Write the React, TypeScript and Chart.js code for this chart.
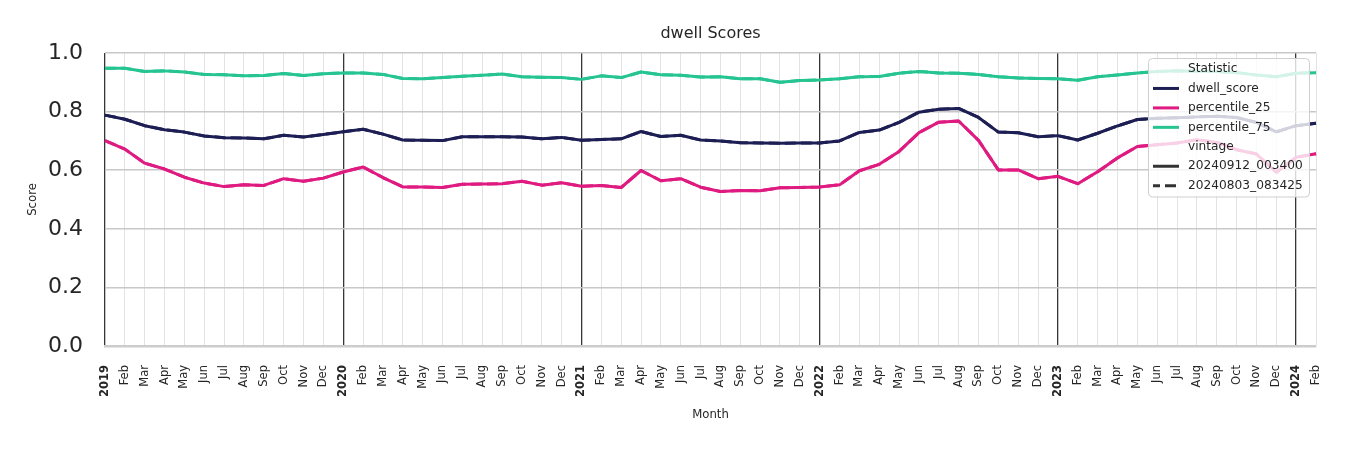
import React, { useEffect, useRef } from 'react';
import { Chart, registerables } from 'chart.js';

Chart.register(...registerables);

// ---- Data ----
const YEARS = ['2019', '2020', '2021', '2022', '2023', '2024'];
const MONTH_ABBR = ['Jan', 'Feb', 'Mar', 'Apr', 'May', 'Jun', 'Jul', 'Aug', 'Sep', 'Oct', 'Nov', 'Dec'];
const MONTH_COUNT = 62; // Jan 2019 .. Feb 2024
const MONTH_LABELS: string[] = [];
for (let i = 0; i < MONTH_COUNT; i++) {
  MONTH_LABELS.push(i % 12 === 0 ? YEARS[i / 12] : MONTH_ABBR[i % 12]);
}

const DWELL_SCORE = [
  0.788, 0.774, 0.752, 0.738, 0.730, 0.717, 0.711, 0.710, 0.707, 0.719, 0.713, 0.722,
  0.731, 0.740, 0.723, 0.703, 0.702, 0.701, 0.714, 0.714, 0.714, 0.713, 0.707, 0.712,
  0.702, 0.705, 0.707, 0.732, 0.715, 0.719, 0.703, 0.700, 0.694, 0.693, 0.692, 0.693,
  0.693, 0.700, 0.729, 0.737, 0.763, 0.798, 0.808, 0.811, 0.780, 0.730, 0.728, 0.714,
  0.718, 0.703, 0.726, 0.751, 0.773, 0.777, 0.779, 0.782, 0.784, 0.780, 0.763, 0.731,
  0.752, 0.760,
];
const PERCENTILE_25 = [
  0.701, 0.672, 0.624, 0.604, 0.576, 0.556, 0.544, 0.550, 0.548, 0.571, 0.562, 0.573,
  0.594, 0.611, 0.575, 0.543, 0.543, 0.541, 0.552, 0.553, 0.554, 0.562, 0.549, 0.557,
  0.545, 0.548, 0.541, 0.599, 0.564, 0.571, 0.542, 0.527, 0.531, 0.530, 0.540, 0.541,
  0.543, 0.550, 0.598, 0.620, 0.664, 0.728, 0.764, 0.768, 0.702, 0.601, 0.601, 0.571,
  0.579, 0.554, 0.595, 0.642, 0.681, 0.687, 0.693, 0.704, 0.695, 0.670, 0.655, 0.593,
  0.644, 0.656,
];
const PERCENTILE_75 = [
  0.948, 0.948, 0.937, 0.939, 0.935, 0.927, 0.926, 0.922, 0.923, 0.930, 0.923, 0.929,
  0.932, 0.932, 0.927, 0.913, 0.912, 0.916, 0.921, 0.924, 0.928, 0.919, 0.917, 0.916,
  0.910, 0.922, 0.916, 0.935, 0.926, 0.924, 0.918, 0.919, 0.912, 0.912, 0.900, 0.906,
  0.908, 0.912, 0.919, 0.920, 0.931, 0.937, 0.932, 0.931, 0.927, 0.919, 0.915, 0.913,
  0.912, 0.907, 0.919, 0.925, 0.932, 0.937, 0.939, 0.938, 0.937, 0.933, 0.925, 0.919,
  0.931, 0.933,
];

const STATISTICS = ['dwell_score', 'percentile_25', 'percentile_75'];
const VINTAGES = ['20240912_003400', '20240803_083425'];
const STAT_VALUES = [DWELL_SCORE, PERCENTILE_25, PERCENTILE_75];
const STAT_COLORS = ['#1d1f54', '#df1a80', '#25c491'];
const VINTAGE_DASH = [[], [11, 5]];

const Y_TICKS_MIN = 0;
const Y_TICKS_MAX = 1;
const Y_TICK_STEP = 0.2;

const TEXT_COLOR = '#262626';
const FONT = 'DejaVu Sans';

// ---- Legend plugin (seaborn-style legend with section headers) ----
const legendPlugin = {
  id: 'sectionLegend',
  afterDraw(chart: any) {
    const ctx = chart.ctx as CanvasRenderingContext2D;
    const area = chart.chartArea;
    const boxRight = area.right - 7;
    const boxTop = area.top + 5;
    const boxW = 161;
    const boxH = 138.5;
    const boxLeft = boxRight - boxW;
    ctx.save();
    ctx.beginPath();
    (ctx as any).roundRect(boxLeft + 0.5, boxTop + 0.5, boxW, boxH, 4);
    ctx.fillStyle = 'rgba(255,255,255,0.8)';
    ctx.fill();
    ctx.strokeStyle = '#cfcfcf';
    ctx.lineWidth = 1;
    ctx.stroke();

    const rows: { text: string; color?: string; dash?: number[] }[] = [
      { text: 'Statistic' },
      ...STATISTICS.map((s, i) => ({ text: s, color: STAT_COLORS[i], dash: [] as number[] })),
      { text: 'vintage' },
      ...VINTAGES.map((v, i) => ({ text: v, color: '#333333', dash: VINTAGE_DASH[i] })),
    ];
    const firstY = boxTop + 11;
    const step = 19.45;
    const handleX0 = boxLeft + 5;
    const handleX1 = boxLeft + 31;
    const textX = boxLeft + 40;
    ctx.font = `12.2px "${FONT}"`;
    ctx.textBaseline = 'middle';
    ctx.textAlign = 'left';
    rows.forEach((r, i) => {
      const y = firstY + i * step;
      if (r.color) {
        ctx.beginPath();
        ctx.setLineDash(r.dash || []);
        ctx.lineDashOffset = r.dash && r.dash.length ? 4 : 0;
        ctx.strokeStyle = r.color;
        ctx.lineWidth = 3;
        ctx.lineCap = 'butt';
        ctx.moveTo(handleX0, y);
        ctx.lineTo(handleX1, y);
        ctx.stroke();
        ctx.setLineDash([]);
      }
      ctx.fillStyle = TEXT_COLOR;
      ctx.fillText(r.text, textX, y);
    });
    ctx.restore();
  },
};

export default function App() {
  const canvasRef = useRef<HTMLCanvasElement | null>(null);

  useEffect(() => {
    if (!canvasRef.current) return;
    Chart.defaults.font.family = FONT;

    const datasets: any[] = [];
    VINTAGES.forEach((vintage, vi) => {
      STATISTICS.forEach((stat, si) => {
        datasets.push({
          label: `${stat} ${vintage}`,
          data: STAT_VALUES[si],
          borderColor: STAT_COLORS[si],
          backgroundColor: STAT_COLORS[si],
          borderWidth: 3,
          borderDash: VINTAGE_DASH[vi],
          pointRadius: 0,
          pointHoverRadius: 0,
          tension: 0,
          fill: false,
          order: vi === 0 ? 0 : 1,
          borderJoinStyle: 'round',
        });
      });
    });

    const chart = new Chart(canvasRef.current, {
      type: 'line',
      data: { labels: MONTH_LABELS, datasets },
      options: {
        animation: false,
        responsive: false,
        maintainAspectRatio: false,
        layout: { padding: { left: 0, right: 34, top: 0, bottom: 0 } },
        plugins: {
          legend: { display: false },
          tooltip: { enabled: false },
          title: {
            display: true,
            text: 'dwell Scores',
            color: TEXT_COLOR,
            fullSize: false,
            font: { size: 16, weight: 'normal', family: FONT },
            padding: { top: 24.4, bottom: 9.4 },
          },
        },
        scales: {
          x: {
            type: 'category',
            offset: false,
            grid: {
              display: true,
              drawTicks: false,
              color: (c: any) => (c.index % 12 === 0 ? '#363636' : '#e3e3e3'),
              lineWidth: (c: any) => (c.index % 12 === 0 ? 1.3 : 1),
            },
            border: { display: true, color: '#cccccc', width: 2.5 },
            ticks: {
              autoSkip: false,
              minRotation: 90,
              maxRotation: 90,
              padding: 19,
              color: TEXT_COLOR,
              font: (c: any) => ({
                size: 11.5,
                family: FONT,
                weight: c.index % 12 === 0 ? 'bold' : 'normal',
              }),
            },
            title: {
              display: true,
              text: 'Month',
              color: TEXT_COLOR,
              font: { size: 11.7, family: FONT },
              padding: { top: 0, bottom: 28 },
            },
            afterFit: (scale: any) => {
              scale.height = 104;
            },
          },
          y: {
            min: Y_TICKS_MIN,
            max: Y_TICKS_MAX,
            grid: { display: true, drawTicks: false, color: '#c8c8c8', lineWidth: 1.6 },
            border: { display: false },
            ticks: {
              stepSize: Y_TICK_STEP,
              padding: 22,
              color: TEXT_COLOR,
              font: { size: 22, family: FONT },
              callback: (v: any) => Number(v).toFixed(1),
            },
            title: {
              display: true,
              text: 'Score',
              color: TEXT_COLOR,
              font: { size: 11.7, family: FONT },
              padding: { top: 26, bottom: 0 },
            },
            afterFit: (scale: any) => {
              scale.width = 105;
            },
          },
        },
      },
      plugins: [legendPlugin],
    });

    return () => {
      chart.destroy();
    };
  }, []);

  return (
    <div style={{ position: 'absolute', left: 0, top: 0, width: 1350, height: 450, background: '#ffffff' }}>
      <canvas ref={canvasRef} width={1350} height={450} />
    </div>
  );
}
